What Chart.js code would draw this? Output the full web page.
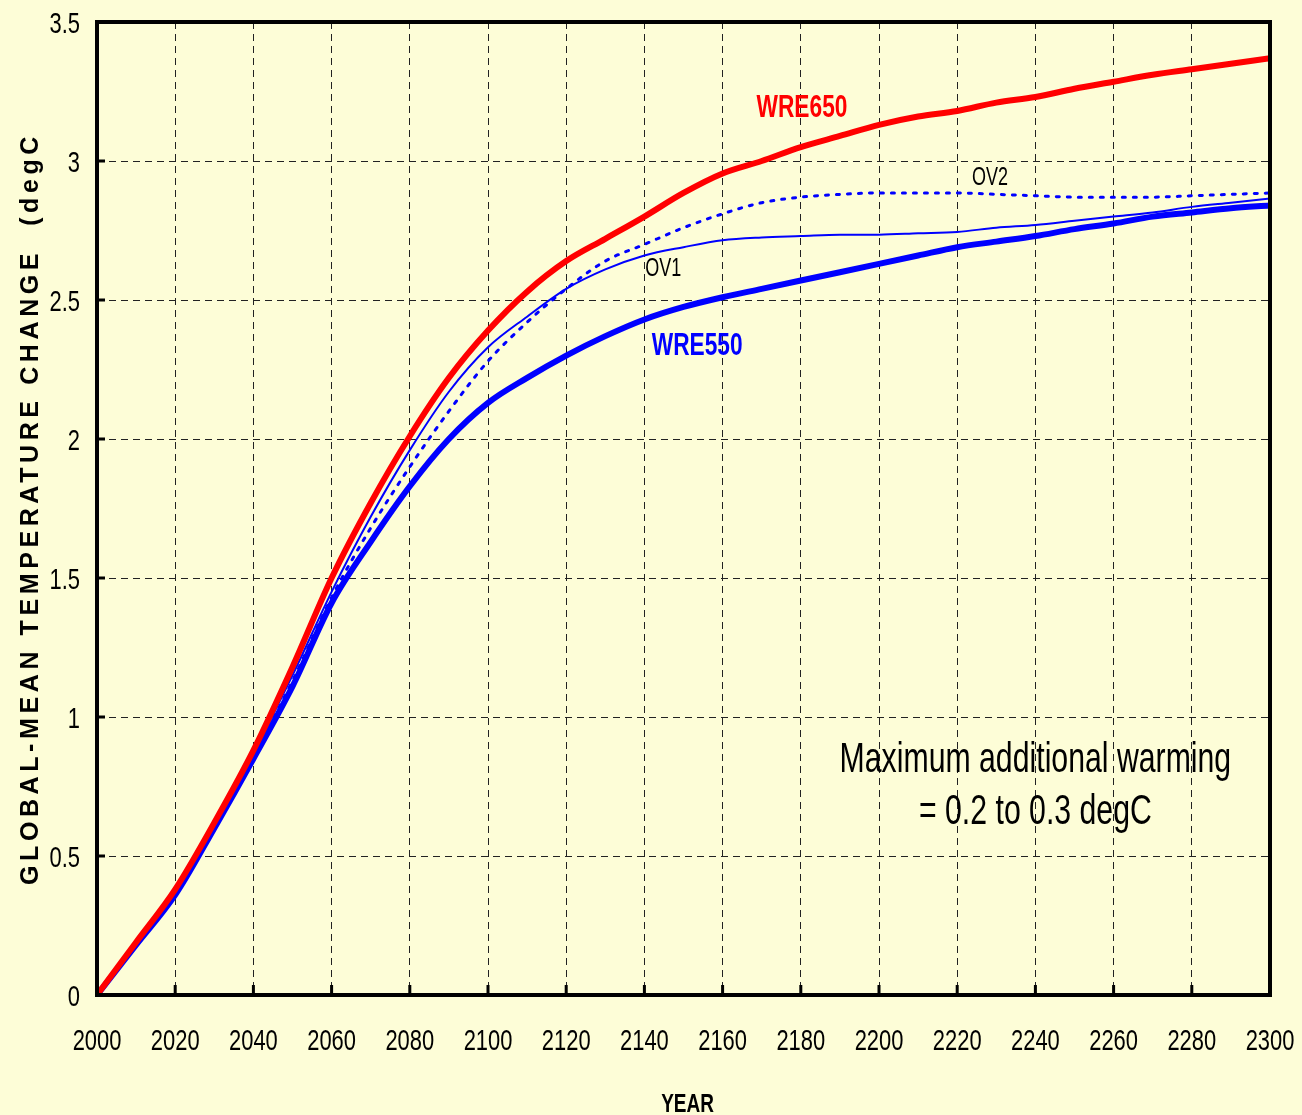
<!DOCTYPE html>
<html>
<head>
<meta charset="utf-8">
<script src="https://cdn.jsdelivr.net/npm/chart.js@4.4.1/dist/chart.umd.min.js"></script>
<style>
  body { margin: 0; background: #FDFDD7; }
  #wrap { width: 1302px; height: 1115px; }
</style>
</head>
<body>
<div id="wrap"><canvas id="warming-chart" width="1302" height="1115"></canvas></div>
<script>
// years every 10 from 2000 to 2300
const years = [2000, 2010, 2020, 2030, 2040, 2050, 2060, 2070, 2080, 2090, 2100,
  2110, 2120, 2130, 2140, 2150, 2160, 2170, 2180, 2190, 2200,
  2210, 2220, 2230, 2240, 2250, 2260, 2270, 2280, 2290, 2300];

const wre650 = [0, 0.19, 0.38, 0.62, 0.88, 1.18, 1.50, 1.77, 2.01, 2.22, 2.39,
  2.53, 2.64, 2.72, 2.80, 2.885, 2.955, 3.00, 3.05, 3.09, 3.13,
  3.16, 3.18, 3.21, 3.23, 3.26, 3.285, 3.31, 3.33, 3.35, 3.37];

const wre550 = [0, 0.18, 0.36, 0.60, 0.85, 1.11, 1.41, 1.63, 1.83, 2.00, 2.13,
  2.22, 2.30, 2.37, 2.43, 2.475, 2.51, 2.54, 2.57, 2.60, 2.63,
  2.66, 2.69, 2.71, 2.73, 2.755, 2.775, 2.80, 2.815, 2.83, 2.84];

const ov1 = [0, 0.18, 0.37, 0.61, 0.87, 1.15, 1.45, 1.72, 1.96, 2.17, 2.33,
  2.44, 2.54, 2.61, 2.66, 2.69, 2.715, 2.725, 2.73, 2.735, 2.735,
  2.74, 2.745, 2.76, 2.77, 2.785, 2.80, 2.815, 2.835, 2.85, 2.865];

const ov2 = [0, 0.18, 0.37, 0.61, 0.86, 1.13, 1.43, 1.68, 1.90, 2.10, 2.28,
  2.42, 2.54, 2.64, 2.70, 2.76, 2.81, 2.85, 2.87, 2.88, 2.885,
  2.885, 2.885, 2.88, 2.875, 2.87, 2.87, 2.87, 2.875, 2.88, 2.885];

const xTickLabels = ['2000', '2020', '2040', '2060', '2080', '2100', '2120', '2140',
  '2160', '2180', '2200', '2220', '2240', '2260', '2280', '2300'];
const yTickLabels = ['0', '0.5', '1', '1.5', '2', '2.5', '3', '3.5'];

// text labels placed in data units: [text, year, value]
const curveLabels = [
  ['WRE650', 2180.3, 3.19],
  ['WRE550', 2153.5, 2.335],
  ['OV1', 2144.8, 2.61],
  ['OV2', 2228.4, 2.94],
];
const noteLines = ['Maximum additional warming', '= 0.2 to 0.3 degC'];

const SANS = '"Liberation Sans", Arial, sans-serif';
const SQUEEZE = 0.73; // no narrow font installed, so squeeze text sideways

const toPoints = (vals) => years.map((yr, i) => ({ x: yr, y: vals[i] }));

// draw text squeezed horizontally, anchored at (x, y)
function narrowText(ctx, text, x, y, font, align, sx) {
  ctx.save();
  ctx.font = font;
  ctx.textAlign = align;
  ctx.translate(x, y);
  ctx.scale(sx || SQUEEZE, 1);
  ctx.fillText(text, 0, 0);
  ctx.restore();
}

// background, frame, inner tick marks, tick labels, axis titles and text labels
const decorations = {
  id: 'decorations',
  beforeDraw(chart) {
    const ctx = chart.ctx;
    ctx.save();
    ctx.fillStyle = '#FDFDD7';
    ctx.fillRect(0, 0, chart.width, chart.height);
    ctx.restore();
  },
  afterDraw(chart) {
    const { ctx, chartArea: a, scales } = chart;
    const xs = scales.x, ys = scales.y;
    ctx.save();

    // frame
    ctx.strokeStyle = '#000';
    ctx.lineWidth = 4;
    ctx.strokeRect(a.left, a.top, a.right - a.left, a.bottom - a.top);

    // short inward ticks
    ctx.lineWidth = 3;
    ctx.beginPath();
    xs.ticks.forEach((t) => {
      const px = xs.getPixelForValue(t.value);
      ctx.moveTo(px, a.bottom);
      ctx.lineTo(px, a.bottom - 10);
    });
    ys.ticks.forEach((t) => {
      const py = ys.getPixelForValue(t.value);
      ctx.moveTo(a.left, py);
      ctx.lineTo(a.left + 8, py);
    });
    ctx.stroke();

    ctx.fillStyle = '#000';
    ctx.textBaseline = 'alphabetic';

    // tick labels
    xs.ticks.forEach((t, i) => {
      narrowText(ctx, xTickLabels[i], xs.getPixelForValue(t.value), a.bottom + 55, '30px ' + SANS, 'center');
    });
    ys.ticks.forEach((t, i) => {
      narrowText(ctx, yTickLabels[i], a.left - 17, ys.getPixelForValue(t.value) + 11, '30px ' + SANS, 'right');
    });

    // axis titles
    narrowText(ctx, 'YEAR', (a.left + a.right) / 2 + 4, 1112, 'bold 26px ' + SANS, 'center');

    ctx.save();
    ctx.translate(38, (a.top + a.bottom) / 2);
    ctx.rotate(-Math.PI / 2);
    ctx.textAlign = 'center';
    ctx.font = 'bold 25px ' + SANS;
    ctx.letterSpacing = '4.6px';
    ctx.fillText('GLOBAL-MEAN TEMPERATURE CHANGE  (degC', 0, 0);
    ctx.restore();

    // curve labels
    ctx.textBaseline = 'middle';
    curveLabels.forEach(([text, yr, val]) => {
      const px = xs.getPixelForValue(yr);
      const py = ys.getPixelForValue(val);
      if (text.startsWith('WRE')) {
        ctx.fillStyle = text === 'WRE650' ? '#FF0000' : '#0000FF';
        narrowText(ctx, text, px, py, 'bold 32px ' + SANS, 'center', 0.71);
      } else {
        ctx.fillStyle = '#000';
        narrowText(ctx, text, px, py, '25px ' + SANS, 'center', 0.72);
      }
    });

    // note
    ctx.fillStyle = '#000';
    const nx = xs.getPixelForValue(2240);
    narrowText(ctx, noteLines[0], nx, ys.getPixelForValue(0.845), '42px ' + SANS, 'center', 0.72);
    narrowText(ctx, noteLines[1], nx, ys.getPixelForValue(0.658), '42px ' + SANS, 'center', 0.72);

    ctx.restore();
  },
};

const gridStyle = {
  color: '#222',
  lineWidth: 1,
  drawTicks: false,
};

new Chart(document.getElementById('warming-chart').getContext('2d'), {
  type: 'line',
  data: {
    datasets: [
      {
        label: 'WRE650',
        data: toPoints(wre650),
        borderColor: '#FF0000',
        borderWidth: 6,
        order: 1,
      },
      {
        label: 'WRE550',
        data: toPoints(wre550),
        borderColor: '#0000FF',
        borderWidth: 6,
        order: 2,
      },
      {
        label: 'OV1',
        data: toPoints(ov1),
        borderColor: '#0000FF',
        borderWidth: 2,
        order: 3,
      },
      {
        label: 'OV2',
        data: toPoints(ov2),
        borderColor: '#0000FF',
        borderWidth: 3,
        borderDash: [3, 8],
        order: 4,
      },
    ],
  },
  options: {
    responsive: false,
    animation: false,
    events: [],
    layout: { padding: { top: 22, right: 32, left: 0, bottom: 0 } },
    elements: {
      point: { radius: 0 },
      line: { tension: 0.3, cubicInterpolationMode: 'monotone', borderCapStyle: 'round', fill: false },
    },
    plugins: {
      legend: { display: false },
      tooltip: { enabled: false },
    },
    scales: {
      x: {
        type: 'linear',
        min: 2000,
        max: 2300,
        afterFit: (scale) => { scale.height = 120; },
        ticks: { stepSize: 20, display: false },
        grid: { ...gridStyle },
        border: { display: false, dash: [7, 5] },
      },
      y: {
        type: 'linear',
        min: 0,
        max: 3.5,
        afterFit: (scale) => { scale.width = 97; },
        ticks: { stepSize: 0.5, display: false },
        grid: { ...gridStyle },
        border: { display: false, dash: [7, 5] },
      },
    },
  },
  plugins: [decorations],
});
</script>
</body>
</html>
